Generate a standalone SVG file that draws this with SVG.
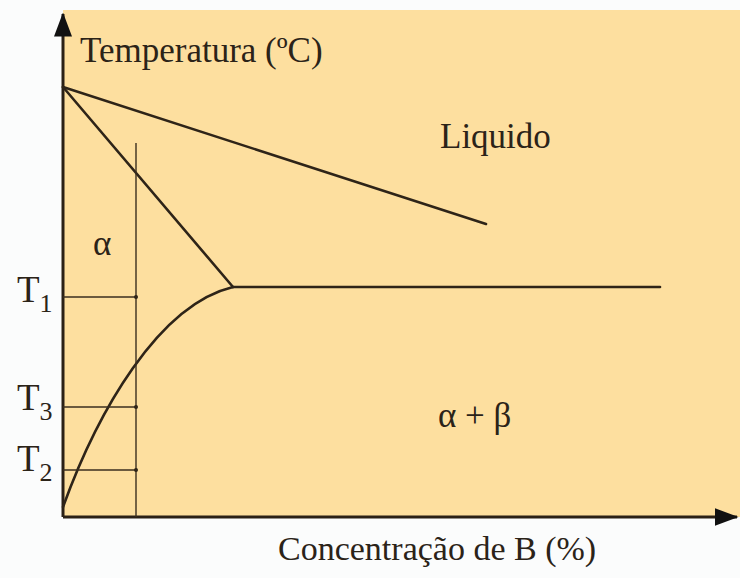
<svg xmlns="http://www.w3.org/2000/svg" width="740" height="578" viewBox="0 0 740 578">
<style>
text{font-family:'Liberation Serif','Times New Roman',Times,'DejaVu Serif',serif;fill:#2b2318}
.ln{stroke:#2e2418;stroke-width:2.6;fill:none;stroke-linecap:round}
.thin{stroke:#3a2e1e;stroke-width:1.4;fill:none}
.ax{stroke:#2a2016;stroke-width:3;fill:none}
</style>
<defs>
<marker id="ah" markerWidth="8" markerHeight="6" refX="7.5" refY="3" orient="auto" markerUnits="strokeWidth">
<path d="M0,0 L8,3 L0,6 Z" fill="#111"/>
</marker>
</defs>
<rect x="0" y="0" width="740" height="578" fill="#fbfcfc"/>
<rect x="63" y="10" width="677" height="507" fill="#fddf9f"/>
<g id="axes">
<line class="ax" x1="63" y1="517" x2="63" y2="14" marker-end="url(#ah)"/>
<line class="ax" x1="63" y1="517" x2="737" y2="517" marker-end="url(#ah)"/>
</g>
<g id="connectors">
<line class="ln" x1="63" y1="87" x2="486" y2="224"/>
<line class="ln" x1="63" y1="87" x2="233" y2="287"/>
<line class="ln" x1="233" y1="287" x2="660" y2="287"/>
<path class="ln" d="M63,507 C97,413 158,305 233,287"/>
<line class="thin" x1="136" y1="143" x2="136" y2="517"/>
<line class="thin" x1="63" y1="297" x2="136" y2="297"/>
<line class="thin" x1="63" y1="407" x2="136" y2="407"/>
<line class="thin" x1="63" y1="470" x2="136" y2="470"/>
<circle cx="136" cy="297" r="2" fill="#2e2418"/>
<circle cx="136" cy="407" r="2" fill="#2e2418"/>
<circle cx="136" cy="470" r="2" fill="#2e2418"/>
</g>
<g id="labels">
<text x="80" y="62" font-size="35">Temperatura (ºC)</text>
<text x="440" y="148" font-size="35">Liquido</text>
<text x="93" y="255" font-size="35">α</text>
<text x="438" y="427" font-size="35">α + β</text>
<text x="17" y="302" font-size="37">T<tspan font-size="26" dy="10">1</tspan></text>
<text x="17" y="410" font-size="37">T<tspan font-size="26" dy="10">3</tspan></text>
<text x="17" y="471" font-size="37">T<tspan font-size="26" dy="10">2</tspan></text>
<text x="278" y="560" font-size="34">Concentração de B (%)</text>
</g>
</svg>
